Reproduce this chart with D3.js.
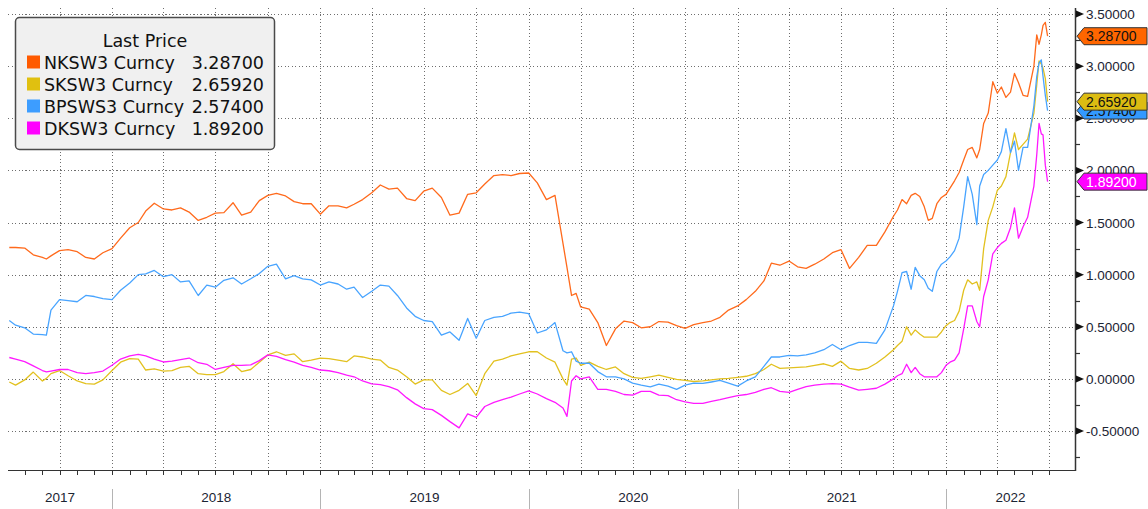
<!DOCTYPE html>
<html><head><meta charset="utf-8">
<script src="https://cdn.jsdelivr.net/npm/d3@7/dist/d3.min.js"></script>
<style>body{margin:0;background:#fff} svg{display:block}</style>
</head><body><svg id="c" width="1148" height="509"></svg>
<script>
// ---------------- DATA ----------------
const dates = [
"2017-07-05","2017-07-16","2017-08-01","2017-08-16","2017-09-01","2017-09-08","2017-09-16","2017-10-01","2017-10-16","2017-11-01","2017-11-16","2017-12-01","2017-12-16",
"2018-01-01","2018-01-16","2018-02-01","2018-02-16","2018-03-01","2018-03-16","2018-04-01","2018-04-16","2018-05-01","2018-05-16","2018-06-01","2018-06-16","2018-07-01","2018-07-16","2018-08-01","2018-08-16","2018-09-01","2018-09-16","2018-10-01","2018-10-16","2018-11-01","2018-11-16","2018-12-01","2018-12-16",
"2019-01-01","2019-01-16","2019-02-01","2019-02-16","2019-03-01","2019-03-16","2019-04-01","2019-04-16","2019-05-01","2019-05-16","2019-06-01","2019-06-16","2019-07-01","2019-07-16","2019-08-01","2019-08-16","2019-09-01","2019-09-16","2019-10-01","2019-10-16","2019-11-01","2019-11-16","2019-12-01","2019-12-16",
"2020-01-01","2020-01-16","2020-02-01","2020-02-16","2020-03-01","2020-03-08","2020-03-16","2020-03-24","2020-04-01","2020-04-16","2020-05-01","2020-05-16","2020-06-01","2020-06-16","2020-07-01","2020-07-16","2020-08-01","2020-08-16","2020-09-01","2020-09-16","2020-10-01","2020-10-16","2020-11-01","2020-11-16","2020-12-01","2020-12-16",
"2021-01-01","2021-01-16","2021-02-01","2021-02-16","2021-03-01","2021-03-16","2021-04-01","2021-04-16","2021-05-01","2021-05-16","2021-06-01","2021-06-16","2021-07-01","2021-07-16","2021-08-01","2021-08-16","2021-09-01","2021-09-16","2021-10-01","2021-10-08","2021-10-16","2021-10-24","2021-11-01","2021-11-08","2021-11-16","2021-11-24","2021-12-01","2021-12-08","2021-12-16","2021-12-24",
"2022-01-01","2022-01-08","2022-01-16","2022-01-24","2022-02-01","2022-02-08","2022-02-16","2022-02-24","2022-03-01","2022-03-08","2022-03-16","2022-03-24","2022-04-01","2022-04-08","2022-04-16","2022-04-24","2022-05-01","2022-05-08","2022-05-16","2022-05-24","2022-06-04","2022-06-09","2022-06-13","2022-06-17","2022-06-20","2022-06-24","2022-06-28"
];

const nkValues = [
1.26,1.26,1.255,1.19,1.165,1.15,1.18,1.23,1.24,1.22,1.165,1.15,1.21,
1.25,1.35,1.45,1.50,1.61,1.685,1.63,1.62,1.64,1.60,1.52,1.55,1.59,1.595,1.69,1.57,1.60,1.71,1.76,1.78,1.755,1.70,1.68,1.68,
1.58,1.66,1.66,1.64,1.675,1.72,1.786,1.86,1.82,1.83,1.73,1.71,1.80,1.83,1.74,1.57,1.59,1.77,1.785,1.87,1.95,1.96,1.95,1.97,
1.975,1.88,1.72,1.76,1.30,1.07,0.80,0.82,0.69,0.67,0.54,0.32,0.48,0.555,0.54,0.49,0.50,0.55,0.545,0.51,0.485,0.52,0.54,0.555,0.59,0.66,
0.70,0.76,0.84,0.94,1.11,1.09,1.13,1.075,1.06,1.10,1.15,1.21,1.24,1.06,1.165,1.28,1.28,1.41,1.56,1.62,1.72,1.68,1.76,1.78,1.75,1.65,1.52,1.54,1.68,1.74,
1.77,1.83,1.90,1.98,2.10,2.20,2.22,2.12,2.20,2.45,2.55,2.85,2.74,2.80,2.70,2.75,2.93,2.84,2.72,2.71,3.00,3.30,3.21,3.30,3.39,3.42,3.287
];
const skValues = [
-0.03,-0.06,-0.01,0.065,-0.02,0.005,0.05,0.08,0.03,-0.02,-0.045,-0.05,-0.01,
0.08,0.16,0.195,0.19,0.085,0.095,0.075,0.08,0.11,0.12,0.05,0.04,0.04,0.07,0.145,0.07,0.09,0.16,0.23,0.26,0.225,0.24,0.165,0.18,
0.20,0.195,0.18,0.165,0.22,0.21,0.19,0.18,0.11,0.085,0.02,-0.05,-0.01,-0.01,-0.11,-0.15,-0.11,-0.044,-0.16,0.05,0.17,0.19,0.22,0.24,
0.26,0.26,0.20,0.16,0.00,-0.06,0.19,0.20,0.13,0.16,0.12,0.09,0.115,0.05,0.015,0.005,0.02,0.035,0.015,-0.005,-0.015,-0.025,-0.02,-0.01,0.00,0.005,
0.015,0.025,0.05,0.09,0.14,0.10,0.105,0.11,0.115,0.13,0.145,0.12,0.17,0.10,0.085,0.10,0.15,0.21,0.28,0.32,0.36,0.50,0.42,0.47,0.43,0.40,0.40,0.40,0.40,0.45,
0.51,0.54,0.56,0.65,0.85,0.95,0.91,0.93,0.85,1.25,1.52,1.65,1.81,1.85,1.94,2.17,2.36,2.20,2.25,2.30,2.55,2.82,3.05,3.02,2.98,2.88,2.6592
];
const bpValues = [
0.56,0.515,0.49,0.43,0.425,0.42,0.66,0.76,0.75,0.74,0.80,0.79,0.77,
0.76,0.85,0.92,1.00,1.007,1.04,0.98,1.00,0.93,0.94,0.80,0.90,0.88,0.945,0.97,0.91,0.96,1.01,1.08,1.10,0.96,0.99,0.96,0.95,
0.90,0.93,0.91,0.86,0.88,0.78,0.84,0.90,0.89,0.80,0.68,0.60,0.56,0.55,0.42,0.45,0.37,0.58,0.39,0.56,0.59,0.60,0.63,0.64,
0.625,0.44,0.47,0.54,0.27,0.25,0.26,0.17,0.15,0.15,0.07,0.02,0.02,0.00,-0.04,-0.06,-0.076,-0.05,-0.07,-0.10,-0.06,-0.04,-0.044,-0.03,-0.015,-0.04,
-0.07,-0.02,0.02,0.12,0.21,0.21,0.225,0.22,0.23,0.25,0.28,0.33,0.28,0.32,0.35,0.35,0.34,0.47,0.70,0.84,1.02,1.03,0.86,1.07,0.99,0.95,0.87,0.84,1.03,1.10,
1.13,1.17,1.23,1.35,1.65,1.94,1.77,1.48,1.85,1.96,2.00,2.05,2.10,2.18,2.40,2.17,2.28,2.00,2.22,2.22,2.62,2.90,3.03,3.06,2.90,2.72,2.574
];
const dkValues = [
0.205,0.19,0.165,0.125,0.08,0.067,0.075,0.09,0.09,0.06,0.05,0.06,0.075,
0.13,0.19,0.22,0.235,0.22,0.19,0.162,0.17,0.185,0.20,0.155,0.14,0.09,0.11,0.13,0.13,0.135,0.175,0.23,0.215,0.185,0.16,0.13,0.11,
0.085,0.078,0.06,0.035,0.02,-0.02,-0.048,-0.055,-0.075,-0.105,-0.18,-0.24,-0.285,-0.295,-0.35,-0.41,-0.47,-0.335,-0.37,-0.265,-0.225,-0.20,-0.175,-0.145,
-0.115,-0.145,-0.19,-0.225,-0.28,-0.36,-0.02,0.03,0.00,0.02,-0.10,-0.10,-0.12,-0.15,-0.155,-0.12,-0.12,-0.155,-0.16,-0.20,-0.22,-0.235,-0.235,-0.215,-0.20,-0.18,
-0.16,-0.15,-0.13,-0.10,-0.085,-0.12,-0.13,-0.10,-0.075,-0.06,-0.05,-0.045,-0.05,-0.08,-0.108,-0.10,-0.09,-0.05,0.00,0.03,0.05,0.14,0.06,0.11,0.05,0.02,0.02,0.02,0.02,0.06,
0.13,0.16,0.18,0.25,0.48,0.70,0.70,0.55,0.50,0.79,0.95,1.20,1.26,1.30,1.33,1.45,1.64,1.35,1.46,1.55,1.85,2.15,2.45,2.35,2.34,2.05,1.892
];

const seriesNames = ["NKSW3 Curncy","SKSW3 Curncy","BPSWS3 Curncy","DKSW3 Curncy"];
const lastPriceLabels = ["3.28700","2.65920","2.57400","1.89200"];
const seriesColors = ["#ff6a1c","#e2c11f","#48a4ff","#ff19ff"];
const legendColors = ["#ff5a00","#e0c010","#3d9dff","#ff00ff"];
const tagColors = ["#ff6600","#dcbc12","#3399ff","#ff00ff"];
const tagTextColors = ["#111","#111","#111","#fff"];
const yTickValues = [-0.5,0,0.5,1,1.5,2,2.5,3,3.5];
const yTickLabels = ["-0.50000","0.00000","0.50000","1.00000","1.50000","2.00000","2.50000","3.00000","3.50000"];
const yMinorTicks = [-0.75,-0.25,0.25,0.75,1.25,1.75,2.25,2.75,3.25];
const yearLabels = ["2017","2018","2019","2020","2021","2022"];
const legendTitle = "Last Price";

// ---------------- CHART ----------------
const svg = d3.select("#c");
const L = 8, R = 1075, T = 8, B = 470;
const parse = d3.utcParse("%Y-%m-%d");
const x = d3.scaleUtc().domain([parse("2017-07-01"), parse("2022-08-15")]).range([7, R]);
const y = d3.scaleLinear().domain([-0.5, 3.5]).range([431, 14]);

svg.append("rect").attr("width",1148).attr("height",509).attr("fill","#fff");

const grid = svg.append("g").attr("stroke","#6e6e6e").attr("stroke-width",1)
  .attr("stroke-dasharray","1.3,2.2").attr("shape-rendering","crispEdges");
grid.selectAll("line.h").data(yTickValues).join("line").attr("class","h")
  .attr("x1",L).attr("x2",R).attr("y1",d=>Math.round(y(d))+0.5).attr("y2",d=>Math.round(y(d))+0.5);
const quarters = d3.utcMonth.every(3).range(parse("2017-10-01"), parse("2022-08-01"));
grid.selectAll("line.v").data(quarters).join("line").attr("class","v")
  .attr("x1",d=>Math.round(x(d))+0.5).attr("x2",d=>Math.round(x(d))+0.5).attr("y1",T).attr("y2",B);

// lines
const allSeries = [nkValues, skValues, bpValues, dkValues];
const parsedDates = dates.map(parse);
const line = d3.line().x(d=>x(d[0])).y(d=>y(d[1]));
allSeries.forEach((vals,i)=>{
  const pts = parsedDates.map((dt,j)=>[dt, vals[j]]);
  svg.append("path").datum(pts).attr("d",line).attr("fill","none")
    .attr("stroke",seriesColors[i]).attr("stroke-width",1.3).attr("stroke-linejoin","round");
});

// bottom axis
const ax = svg.append("g").attr("stroke","#333");
ax.append("line").attr("x1",L).attr("x2",R).attr("y1",B+0.5).attr("y2",B+0.5).attr("stroke-width",1.2);
const months = d3.utcMonth.range(parse("2017-08-01"), parse("2022-08-01"));
ax.selectAll("line.mt").data(months).join("line").attr("class","mt")
  .attr("x1",d=>Math.round(x(d))+0.5).attr("x2",d=>Math.round(x(d))+0.5).attr("y1",B).attr("y2",B+5);
const yearStarts = d3.utcYear.range(parse("2018-01-01"), parse("2022-02-01"));
svg.append("g").selectAll("line").data(yearStarts).join("line")
  .attr("x1",d=>Math.round(x(d))+0.5).attr("x2",d=>Math.round(x(d))+0.5).attr("y1",489).attr("y2",509)
  .attr("stroke","#b4b4b4").attr("stroke-width",1);
const bounds = [L, ...yearStarts.map(d=>x(d)), R];
svg.append("g").selectAll("text").data(yearLabels).join("text")
  .attr("x",(d,i)=>(bounds[i]+bounds[i+1])/2).attr("y",502).attr("text-anchor","middle")
  .attr("font-family","Liberation Sans, Arial, sans-serif").attr("font-size",13.5).attr("fill","#1b2433").text(d=>d);

// right axis
const ra = svg.append("g");
ra.append("line").attr("x1",R+0.5).attr("x2",R+0.5).attr("y1",T).attr("y2",B+1).attr("stroke","#333").attr("stroke-width",1.5);
ra.selectAll("path.arr").data(yTickValues).join("path").attr("class","arr")
  .attr("d",d=>{const yy=y(d);return `M${R+1},${yy-3.5}L${R+9},${yy}L${R+1},${yy+3.5}Z`;}).attr("fill","#111");
ra.selectAll("line.mn").data(yMinorTicks).join("line").attr("class","mn")
  .attr("x1",R).attr("x2",R+5).attr("y1",d=>Math.round(y(d))+0.5).attr("y2",d=>Math.round(y(d))+0.5)
  .attr("stroke","#333").attr("stroke-width",1.2);
ra.selectAll("text").data(yTickValues).join("text")
  .attr("x",R+11).attr("y",d=>y(d)+5).attr("font-family","Liberation Sans, Arial, sans-serif")
  .attr("font-size",13.5).attr("fill","#1b2433").text((d,i)=>yTickLabels[i]);

// last price tags (drawn: NK, BP, SK, DK)
const lastVals = allSeries.map(v=>v[v.length-1]);
[0,2,1,3].forEach(i=>{
  const yy = y(lastVals[i]);
  const g = svg.append("g");
  g.append("path").attr("d",`M${R+2},${yy}L${R+9},${yy-8.5}L1147,${yy-8.5}L1147,${yy+8.5}L${R+9},${yy+8.5}Z`)
    .attr("fill",tagColors[i]).attr("stroke","#333").attr("stroke-width",1);
  g.append("text").attr("x",R+11).attr("y",yy+5).attr("font-family","Liberation Sans, Arial, sans-serif")
    .attr("font-size",14).attr("fill",tagTextColors[i]).text(lastPriceLabels[i]);
});

// legend
const lg = svg.append("g");
lg.append("rect").attr("x",15.5).attr("y",17.5).attr("width",259).attr("height",132).attr("rx",4)
  .attr("fill","#f0f0f0").attr("stroke","#4a4a4a").attr("stroke-width",1.5);
const lf = "DejaVu Sans, Verdana, sans-serif";
lg.append("text").attr("x",145).attr("y",47).attr("text-anchor","middle").attr("font-family",lf)
  .attr("font-size",17.5).attr("fill","#111").text(legendTitle);
seriesNames.forEach((nm,i)=>{
  const cy = 62 + i*22;
  lg.append("rect").attr("x",27).attr("y",cy-6.5).attr("width",13).attr("height",13).attr("fill",legendColors[i]);
  lg.append("text").attr("x",44).attr("y",cy+6.5).attr("font-family",lf).attr("font-size",17.5).attr("fill","#111").text(nm);
  lg.append("text").attr("x",264).attr("y",cy+6.5).attr("text-anchor","end").attr("font-family",lf).attr("font-size",17.5).attr("fill","#111").text(lastPriceLabels[i]);
});
</script>
</body></html>
